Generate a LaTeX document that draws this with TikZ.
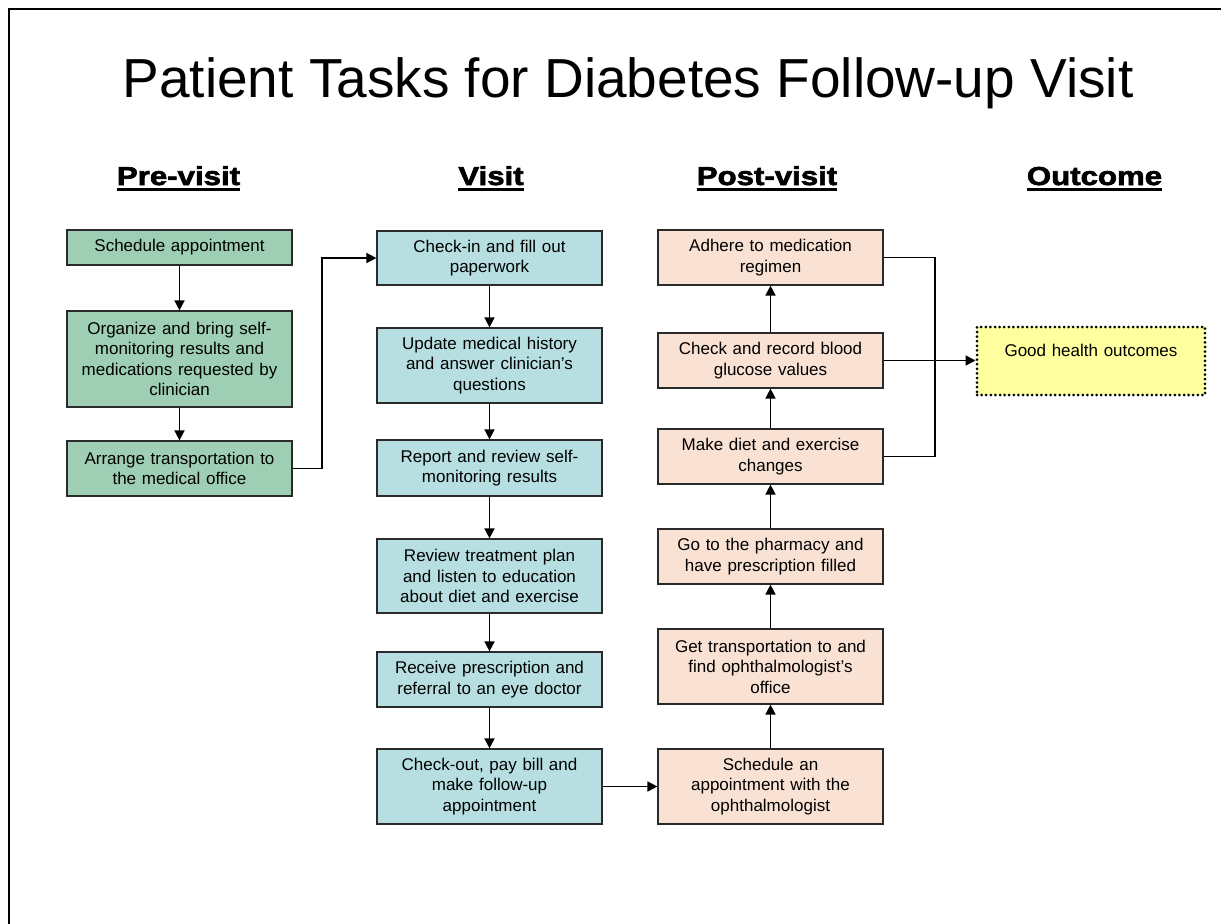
\documentclass[tikz,border=0pt]{standalone}
\usepackage{fontspec}
\setmainfont{Liberation Sans}
\newfontfamily\hdrfont[FakeStretch=1.2,FakeBold=2.5]{Liberation Sans}
\usetikzlibrary{arrows.meta}
\definecolor{pregreen}{HTML}{9ECFB4}
\definecolor{visitblue}{HTML}{B7DFE1}
\definecolor{postpeach}{HTML}{F9E1D3}
\definecolor{outyellow}{HTML}{FFFFA0}
\definecolor{boxline}{HTML}{2A2A2A}
\begin{document}
\begin{tikzpicture}[x=1pt,y=-1pt,
  taskbox/.style={draw=boxline, line width=1.2pt, minimum width=225pt, inner sep=0pt,
    align=center, text width=218pt, font=\fontsize{17}{20.5}\selectfont},
  prebox/.style={taskbox, fill=pregreen},
  visitbox/.style={taskbox, fill=visitblue},
  postbox/.style={taskbox, fill=postpeach},
  outbox/.style={draw=black, fill=outyellow, line width=3pt, dash pattern=on 0pt off 4.6pt,
    line cap=round, minimum width=228pt, minimum height=68pt, inner sep=0pt,
    align=center, text width=220pt, font=\fontsize{17}{20.5}\selectfont},
  hdr/.style={inner sep=0pt, anchor=base, font=\hdrfont\bfseries\fontsize{26}{30}\selectfont},
  arr/.style={line width=1.6pt, -{Triangle[length=10pt,width=10pt]}},
  link/.style={line width=1.6pt}
]
\useasboundingbox (0,0) rectangle (1224,924);
% frame
\draw[line width=2pt] (8.5,924) -- (8.5,9) -- (1221,9);
% title
\node[inner sep=0pt, anchor=base, font=\fontsize{55}{60}\selectfont] (title) at (628,97) {Patient Tasks for Diabetes Follow-up Visit};
% headers
\node[hdr] (h1) at (178.5,185) {Pre-visit};
\node[hdr] (h2) at (491,185) {Visit};
\node[hdr] (h3) at (767,185) {Post-visit};
\node[hdr] (h4) at (1094.5,185) {Outcome};
\foreach \h in {h1,h2,h3,h4}
  \draw[line width=2.2pt] ([yshift=-4.5pt]\h.base west) -- ([yshift=-4.5pt]\h.base east);
% pre-visit
\node[prebox, minimum height=35pt] (s1) at (179.5,247.5) {Schedule appointment};
\node[prebox, minimum height=96pt] (s2) at (179.5,359) {Organize and bring self-\\monitoring results and\\medications requested by\\clinician};
\node[prebox, minimum height=55pt] (s3) at (179.5,468.5) {Arrange transportation to\\the medical office};
% visit
\node[visitbox, minimum height=54pt] (v1) at (489.5,258) {Check-in and fill out\\paperwork};
\node[visitbox, minimum height=75pt] (v2) at (489.5,365.5) {Update medical history\\and answer clinician’s\\questions};
\node[visitbox, minimum height=56pt] (v3) at (489.5,468) {Report and review self-\\monitoring results};
\node[visitbox, minimum height=74pt] (v4) at (489.5,576) {Review treatment plan\\and listen to education\\about diet and exercise};
\node[visitbox, minimum height=55pt] (v5) at (489.5,679.5) {Receive prescription and\\referral to an eye doctor};
\node[visitbox, minimum height=75pt] (v6) at (489.5,786.5) {Check-out, pay bill and\\make follow-up\\appointment};
% post-visit
\node[postbox, minimum height=55pt] (p1) at (770.5,257.5) {Adhere to medication\\regimen};
\node[postbox, minimum height=55pt] (p2) at (770.5,360.5) {Check and record blood\\glucose values};
\node[postbox, minimum height=55pt] (p3) at (770.5,456.5) {Make diet and exercise\\changes};
\node[postbox, minimum height=55pt] (p4) at (770.5,556.5) {Go to the pharmacy and\\have prescription filled};
\node[postbox, minimum height=75pt] (p5) at (770.5,666.5) {Get transportation to and\\find ophthalmologist’s\\office};
\node[postbox, minimum height=75pt] (p6) at (770.5,786.5) {Schedule an\\appointment with the\\ophthalmologist};
% outcome
\node[outbox] (o1) at (1091,361) {Good health outcomes\\\mbox{}};
% connectors
\coordinate (elbow) at (322,0);
\coordinate (bus) at (935,0);
\draw[arr] (s1) -- (s2);
\draw[arr] (s2) -- (s3);
\draw[arr] (s3.east) -- (s3.east -| elbow) -- (v1.west -| elbow) -- (v1.west);
\draw[arr] (v1) -- (v2);
\draw[arr] (v2) -- (v3);
\draw[arr] (v3) -- (v4);
\draw[arr] (v4) -- (v5);
\draw[arr] (v5) -- (v6);
\draw[arr] (v6.east) -- (p6.west);
\draw[arr] (p6) -- (p5);
\draw[arr] (p5) -- (p4);
\draw[arr] (p4) -- (p3);
\draw[arr] (p3) -- (p2);
\draw[arr] (p2) -- (p1);
\draw[link] (p1.east) -- (p1.east -| bus) -- (p3.east -| bus) -- (p3.east);
\draw[arr] (p2.east) -- (p2.east -| o1.west);
\end{tikzpicture}
\end{document}
